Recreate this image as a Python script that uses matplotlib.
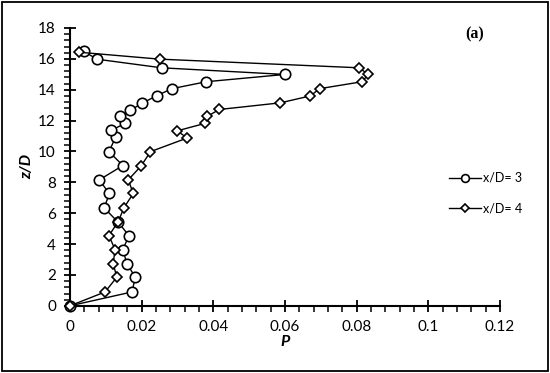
import numpy as np
import matplotlib.pyplot as plt
from matplotlib.patches import Rectangle
from matplotlib.ticker import MultipleLocator

# x/D = 3 profile (circles)
p_xd3 = [0.0, 0.0173, 0.0183, 0.0159, 0.0148, 0.0165, 0.0135, 0.0096, 0.0110, 0.0082,
         0.0148, 0.0109, 0.0128, 0.0114, 0.0155, 0.0141, 0.0169, 0.0202, 0.0243, 0.0285,
         0.0381, 0.0600, 0.0256, 0.0075, 0.0040]
z_xd3 = [0.0, 0.90, 1.85, 2.73, 3.65, 4.55, 5.41, 6.34, 7.28, 8.16,
         9.09, 9.99, 10.93, 11.36, 11.82, 12.27, 12.67, 13.13, 13.62, 14.07,
         14.52, 14.99, 15.42, 15.98, 16.48]

# x/D = 4 profile (diamonds)
p_xd4 = [0.0, 0.0098, 0.0131, 0.0121, 0.0126, 0.0109, 0.0135, 0.0151, 0.0177, 0.0163,
         0.0199, 0.0225, 0.0327, 0.0300, 0.0377, 0.0383, 0.0417, 0.0587, 0.0671, 0.0697,
         0.0816, 0.0832, 0.0808, 0.0251, 0.0025]
z_xd4 = [0.0, 0.90, 1.85, 2.73, 3.65, 4.55, 5.46, 6.36, 7.28, 8.16,
         9.07, 9.99, 10.87, 11.34, 11.82, 12.27, 12.72, 13.15, 13.60, 14.07,
         14.52, 14.99, 15.42, 15.98, 16.43]

labels = ['x/D= 3', 'x/D= 4']

plt.rcParams['font.family'] = ['Lato', 'DejaVu Sans']

fig = plt.figure(figsize=(5.5, 3.73), dpi=100)
ax = fig.add_axes([0.127, 0.18, 0.782, 0.745])

ax.plot(p_xd3, z_xd3, color='black', lw=1.0, marker='o', ms=7.5,
        mfc='white', mec='black', mew=1.2, label=labels[0], clip_on=False, zorder=3)
ax.plot(p_xd4, z_xd4, color='black', lw=1.0, marker='D', ms=5.5,
        mfc='white', mec='black', mew=1.2, label=labels[1], clip_on=False, zorder=3)

ax.set_xlim(0, 0.12)
ax.set_ylim(0, 18)
ax.xaxis.set_major_locator(MultipleLocator(0.02))
ax.xaxis.set_minor_locator(MultipleLocator(0.004))
ax.yaxis.set_major_locator(MultipleLocator(2))
ax.yaxis.set_minor_locator(MultipleLocator(0.4))
ax.set_xticks(np.arange(0, 0.121, 0.02))
ax.set_xticklabels(['0', '0.02', '0.04', '0.06', '0.08', '0.1', '0.12'])

for s in ['top', 'right']:
    ax.spines[s].set_visible(False)
for s in ['left', 'bottom']:
    ax.spines[s].set_linewidth(1.5)

ax.tick_params(which='major', direction='inout', length=8, width=1.3, labelsize=11, pad=6)
ax.tick_params(which='minor', direction='out', length=4, width=1.1)

ax.set_xlabel('P', fontsize=11.5, fontweight='bold', style='italic', labelpad=1)
ax.set_ylabel('z/D', fontsize=11.5, fontweight='bold', style='italic', labelpad=3)

ax.text(0.113, 17.6, '(a)', fontsize=11.5, fontweight='bold',
        family='Liberation Serif', ha='center', va='center')

ax.legend(loc='center left', bbox_to_anchor=(0.855, 0.405), frameon=False,
          fontsize=9, handlelength=2.6, handletextpad=0.15, labelspacing=1.5,
          markerscale=0.75)

fig.patches.append(Rectangle((0.004, 0.006), 0.992, 0.988, transform=fig.transFigure,
                             fill=False, edgecolor='black', lw=1.3))

fig.savefig('out.png', dpi=100)
